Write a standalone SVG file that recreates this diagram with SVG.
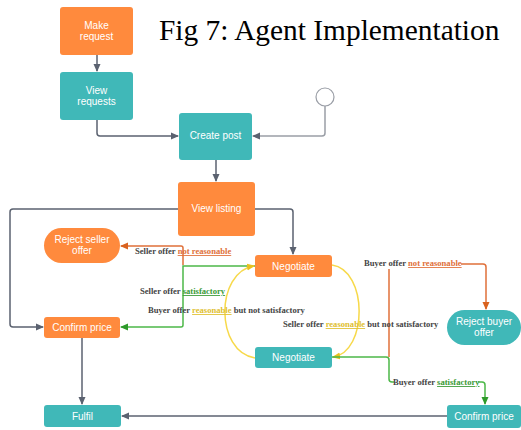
<svg xmlns="http://www.w3.org/2000/svg" width="521" height="430" viewBox="0 0 521 430">
<defs>
<style>
.o{fill:#FF8A3D}
.t{fill:#40B8B8}
.nt{font-family:"Liberation Sans",Arial,sans-serif;font-size:10px;fill:#fff;text-anchor:middle}
.lb{font-family:"Liberation Serif","Times New Roman",serif;font-size:8.6px;font-weight:bold;fill:#444}
.c{fill:none;stroke:#5b6270;stroke-width:1.5}
.cl{fill:none;stroke:#9a9ea6;stroke-width:1.5}
.co{fill:none;stroke:#E0703A;stroke-width:1.5}
.cg{fill:none;stroke:#4CB848;stroke-width:1.5}
.cy{fill:none;stroke:#F7D94A;stroke-width:1.5}
.uo{fill:#E0703A;text-decoration:underline}
.ug{fill:#3A9A36;text-decoration:underline}
.uy{fill:#E0C030;text-decoration:underline}
</style>
<marker id="ag" markerWidth="8" markerHeight="8" refX="7" refY="4" orient="auto" markerUnits="userSpaceOnUse"><path d="M0,0.5 L8,4 L0,7.5z" fill="#5b6270"/></marker>
<marker id="ao" markerWidth="8" markerHeight="8" refX="7" refY="4" orient="auto" markerUnits="userSpaceOnUse"><path d="M0,0.5 L8,4 L0,7.5z" fill="#D9621F"/></marker>
<marker id="agr" markerWidth="8" markerHeight="8" refX="7" refY="4" orient="auto" markerUnits="userSpaceOnUse"><path d="M0,0.5 L8,4 L0,7.5z" fill="#2E9A2A"/></marker>
<marker id="ay" markerWidth="8" markerHeight="8" refX="7" refY="4" orient="auto" markerUnits="userSpaceOnUse"><path d="M0,0.5 L8,4 L0,7.5z" fill="#E8C020"/></marker>
</defs>
<rect width="521" height="430" fill="#fff"/>
<text x="159" y="40" font-family="'Liberation Serif','Times New Roman',serif" font-size="29.4" fill="#000">Fig 7: Agent Implementation</text>

<g id="connectors">
<path class="c" d="M97,55 V71" marker-end="url(#ag)"/>
<path class="c" d="M97,120 V133 Q97,136 100,136 H178" marker-end="url(#ag)"/>
<circle cx="325" cy="97" r="9" fill="#fff" stroke="#9a9ea6" stroke-width="1.2"/>
<path class="cl" d="M325,106 V133 Q325,136 322,136 H253" marker-end="url(#ag)"/>
<path class="c" d="M216,160 V181" marker-end="url(#ag)"/>
<path class="c" d="M255,209 H290 Q293,209 293,212 V254" marker-end="url(#ag)"/>
<path class="c" d="M178,209 H13 Q10,209 10,212 V324 Q10,327 13,327 H43" marker-end="url(#ag)"/>
<path class="c" d="M82,338 V404" marker-end="url(#ag)"/>
<path class="c" d="M447,416 H122" marker-end="url(#ag)"/>
<path class="co" d="M183,265 V248 Q183,246 181,246 H121" marker-end="url(#ao)"/>
<path class="cg" d="M255,266 H183 V325 Q183,327 181,327 H121" marker-end="url(#agr)"/>
<path class="cy" d="M332,265 C368,270 368,352 333,357" marker-end="url(#ay)"/>
<path class="cy" d="M255,358 C215,352 215,272 254,266" marker-end="url(#ay)"/>
<path class="co" d="M389,357 V269"/>
<path class="co" d="M461,264 H483 Q486,264 486,267 V309" marker-end="url(#ao)"/>
<path class="cg" d="M332,357 H386 Q389,357 389,360 V379 Q389,382 392,382 H394"/>
<path class="cg" d="M478,382 H482 Q485,382 485,385 V404" marker-end="url(#agr)"/>
</g>

<g id="make-request"><rect class="o" x="60" y="7" width="73" height="48" rx="3"/><text class="nt" x="96.5" y="29">Make</text><text class="nt" x="96.5" y="40">request</text></g>
<g id="view-requests"><rect class="t" x="60" y="72" width="73" height="48" rx="3"/><text class="nt" x="96.5" y="94">View</text><text class="nt" x="96.5" y="105">requests</text></g>
<g id="create-post"><rect class="t" x="179" y="113" width="73" height="47" rx="3"/><text class="nt" x="215.5" y="139">Create post</text></g>
<g id="view-listing"><rect class="o" x="178" y="182" width="77" height="54" rx="3"/><text class="nt" x="216.5" y="212">View listing</text></g>
<g id="reject-seller-offer"><rect class="o" x="44" y="228" width="76" height="35" rx="17.5"/><text class="nt" x="82" y="243">Reject seller</text><text class="nt" x="82" y="254">offer</text></g>
<g id="confirm-price-left"><rect class="o" x="44" y="317" width="76" height="21" rx="3"/><text class="nt" x="82" y="331">Confirm price</text></g>
<g id="fulfil"><rect class="t" x="44" y="405" width="77" height="22" rx="3"/><text class="nt" x="82.5" y="419.5">Fulfil</text></g>
<g id="negotiate-top"><rect class="o" x="255" y="255" width="77" height="22" rx="3"/><text class="nt" x="293.5" y="269.5">Negotiate</text></g>
<g id="negotiate-bottom"><rect class="t" x="255" y="347" width="77" height="21" rx="3"/><text class="nt" x="293.5" y="361">Negotiate</text></g>
<g id="reject-buyer-offer"><rect class="t" x="447" y="310" width="74" height="35" rx="17.5"/><text class="nt" x="484" y="325">Reject buyer</text><text class="nt" x="484" y="336">offer</text></g>
<g id="confirm-price-right"><rect class="t" x="447" y="405" width="74" height="23" rx="3"/><text class="nt" x="484" y="420">Confirm price</text></g>

<g id="labels">
<text class="lb" x="135" y="254">Seller offer <tspan class="uo">not reasonable</tspan></text>
<text class="lb" x="140" y="294">Seller offer <tspan class="ug">satisfactory</tspan></text>
<text class="lb" x="148" y="313">Buyer offer <tspan class="uy">reasonable</tspan> but not satisfactory</text>
<text class="lb" x="283" y="327">Seller offer <tspan class="uy">reasonable</tspan> but not satisfactory</text>
<text class="lb" x="364" y="266">Buyer offer <tspan class="uo">not reasonable</tspan></text>
<text class="lb" x="393" y="385">Buyer offer <tspan class="ug">satisfactory</tspan></text>
</g>
</svg>
